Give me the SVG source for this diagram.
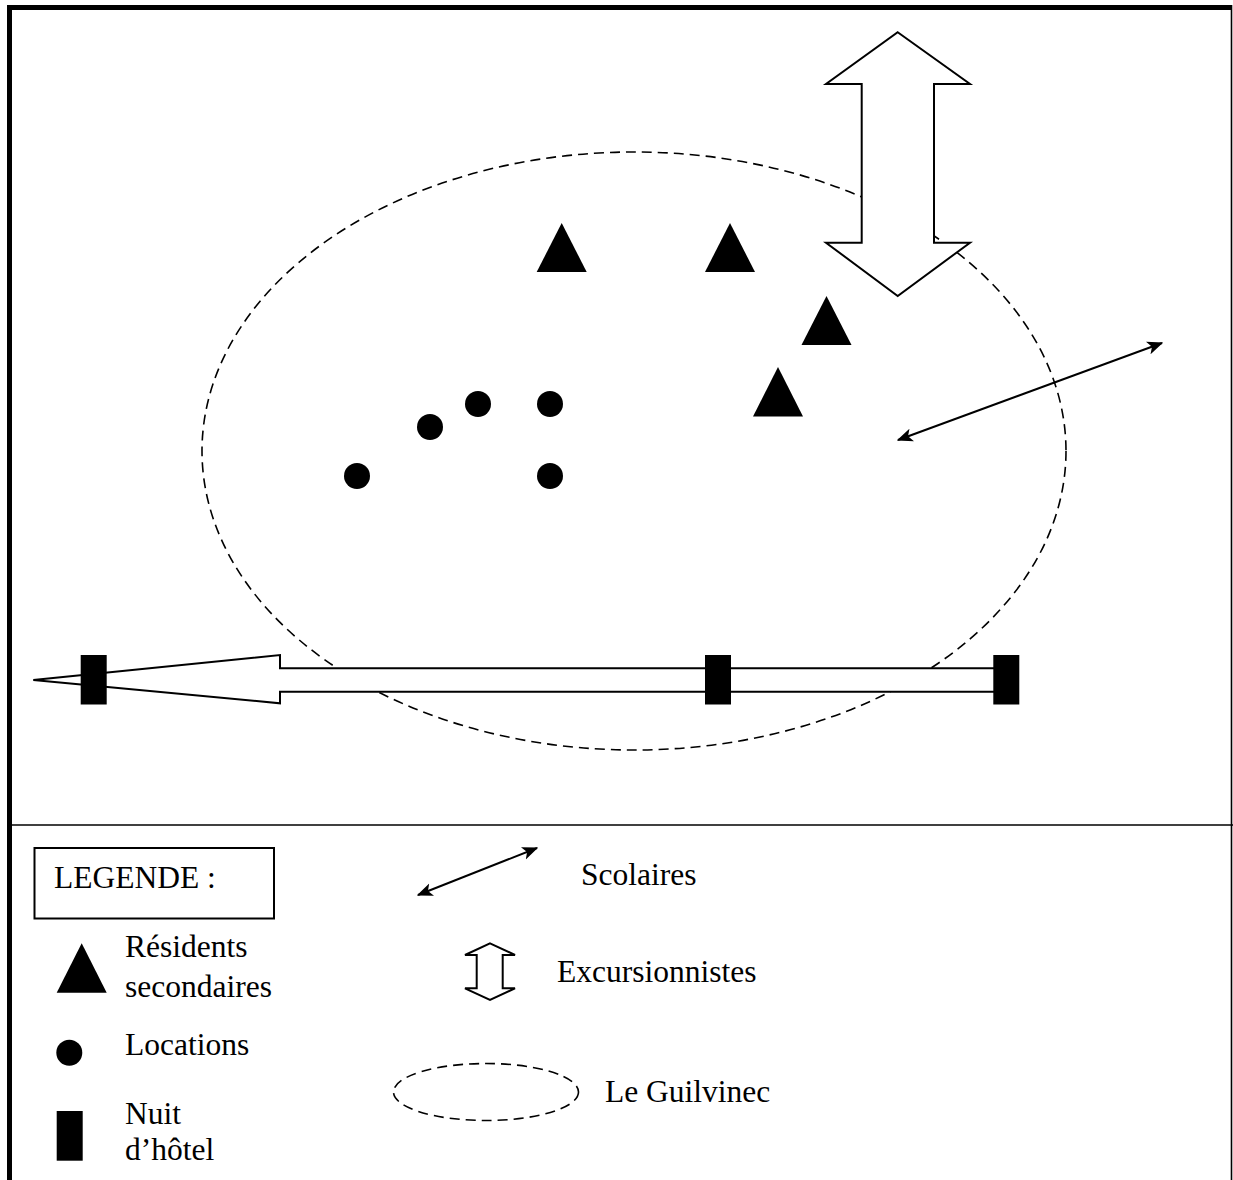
<svg xmlns="http://www.w3.org/2000/svg" width="1233" height="1180" viewBox="0 0 1233 1180">
  <style>
    .txt { font-family: "Liberation Serif", "Times New Roman", serif; font-size: 31.5px; fill: #000; }
    .sym { fill: #000; stroke: none; }
    .outline { fill: #fff; stroke: #000; stroke-width: 2; stroke-linejoin: miter; }
    .dash { fill: none; stroke: #000; stroke-width: 1.6; stroke-dasharray: 10 6; }
    .thin { fill: none; stroke: #000; stroke-width: 2; }
  </style>
  <defs>
    <marker id="headL" viewBox="0 0 12 10" refX="11" refY="5" markerWidth="16" markerHeight="14" markerUnits="userSpaceOnUse" orient="auto-start-reverse">
      <path d="M0,0 L12,5 L0,10 L3,5 z" fill="#000"/>
    </marker>
  </defs>
  <rect x="0" y="0" width="1233" height="1180" fill="#fff"/>

  <!-- frame -->
  <g id="frame">
    <line x1="7" y1="7.5" x2="1232" y2="7.5" stroke="#000" stroke-width="5"/>
    <line x1="9.5" y1="5" x2="9.5" y2="1180" stroke="#000" stroke-width="5"/>
    <line x1="1231.5" y1="5" x2="1231.5" y2="1180" stroke="#000" stroke-width="1.6"/>
    <line x1="9" y1="825" x2="1233" y2="825" stroke="#000" stroke-width="1.6"/>
  </g>

  <!-- Le Guilvinec zone -->
  <g id="zone-guilvinec">
    <ellipse class="dash" cx="634" cy="451" rx="432" ry="299"/>
  </g>

  <!-- connectors / flows -->
  <g id="connectors">
    <polygon id="excursionnistes-arrow" class="outline" points="897.7,32.3 970,84 934,84 934,242.7 970,242.7 897.7,296 826,242.7 861.7,242.7 861.7,84 826,84"/>
    <polygon id="hotel-arrow" class="outline" points="33.3,680 280,655 280,668.3 1006,668.3 1006,691.7 280,691.7 280,703.3"/>
    <line id="scolaires-arrow" class="thin" x1="898" y1="440" x2="1162" y2="343" marker-start="url(#headL)" marker-end="url(#headL)"/>
  </g>

  <!-- residents secondaires -->
  <g id="residents">
    <polygon class="sym" points="561.7,223 586.7,272 536.7,272"/>
    <polygon class="sym" points="730,223 755,272 705,272"/>
    <polygon class="sym" points="826.5,296 851.5,345 801.5,345"/>
    <polygon class="sym" points="778,367 803,416.5 753,416.5"/>
  </g>

  <!-- locations -->
  <g id="locations">
    <circle class="sym" cx="478" cy="404" r="13"/>
    <circle class="sym" cx="550" cy="404" r="13"/>
    <circle class="sym" cx="430" cy="427" r="13"/>
    <circle class="sym" cx="357" cy="476" r="13"/>
    <circle class="sym" cx="550" cy="476" r="13"/>
  </g>

  <!-- nuits d'hotel -->
  <g id="hotels">
    <rect class="sym" x="80.7" y="655" width="26" height="49.5"/>
    <rect class="sym" x="705" y="655" width="26" height="49.5"/>
    <rect class="sym" x="993.3" y="655" width="26" height="49.5"/>
  </g>

  <!-- legend -->
  <g id="legend-title">
    <rect x="34.5" y="848" width="239.5" height="70.5" fill="#fff" stroke="#000" stroke-width="2"/>
    <text class="txt" x="54" y="888">LEGENDE :</text>
  </g>
  <g id="legend-residents">
    <polygon class="sym" points="81.7,943.3 106.7,992.7 56.7,992.7"/>
    <text class="txt" x="125" y="957">Résidents</text>
    <text class="txt" x="125" y="996.5">secondaires</text>
  </g>
  <g id="legend-locations">
    <circle class="sym" cx="69.3" cy="1052.7" r="13"/>
    <text class="txt" x="125" y="1055">Locations</text>
  </g>
  <g id="legend-hotel">
    <rect class="sym" x="56.7" y="1111" width="26" height="49.7"/>
    <text class="txt" x="125" y="1124">Nuit</text>
    <text class="txt" x="125" y="1160">d’hôtel</text>
  </g>
  <g id="legend-scolaires">
    <line class="thin" x1="418" y1="895" x2="537" y2="848" marker-start="url(#headL)" marker-end="url(#headL)"/>
    <text class="txt" x="581" y="885">Scolaires</text>
  </g>
  <g id="legend-excursionnistes">
    <polygon class="outline" points="490,943.3 515,955 502.7,955 502.7,988.3 515,988.3 490,1000 465,988.3 476.7,988.3 476.7,955 465,955"/>
    <text class="txt" x="557" y="982">Excursionnistes</text>
  </g>
  <g id="legend-guilvinec">
    <ellipse class="dash" cx="486" cy="1092" rx="92.5" ry="28.5"/>
    <text class="txt" x="605" y="1102">Le Guilvinec</text>
  </g>
</svg>
